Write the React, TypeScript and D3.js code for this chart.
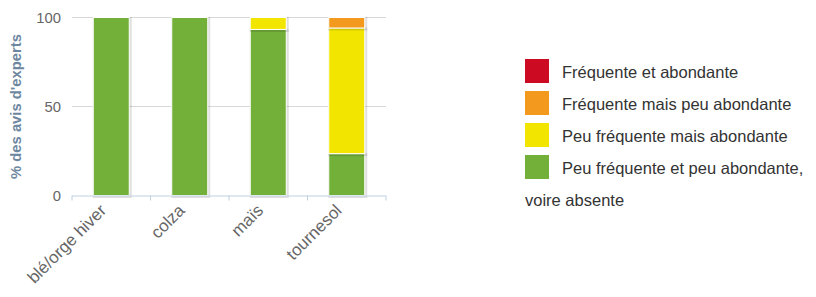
import * as d3 from 'd3';

const categories = ['blé/orge hiver', 'colza', 'maïs', 'tournesol'];
const seriesNames = [
  'Fréquente et abondante',
  'Fréquente mais peu abondante',
  'Peu fréquente mais abondante',
  'Peu fréquente et peu abondante, voire absente',
];
const seriesColors = ['#cc0a21', '#f39a1e', '#f2e600', '#72b03a'];
// values per series, in category order
const frequenteAbondante = [0, 0, 0, 0];
const frequentePeu = [0, 0, 0, 5.9];
const peuAbondante = [0, 0, 6.7, 70.6];
const peuPeu = [100, 100, 93.3, 23.5];
const yTicks = [0, 50, 100];

const width = 816;
const height = 297;
const margin = { top: 17.5, left: 72, right: 430, bottom: 101.5 };

function App() {
  const innerW = width - margin.left - margin.right;
  const innerH = height - margin.top - margin.bottom;
  const x = d3.scaleBand().domain(categories).range([0, innerW]);
  const y = d3.scaleLinear().domain([0, 100]).range([innerH, 0]);
  const barW = 36;

  // stack bottom-up: green, yellow, orange, red
  const rows = categories.map((c, i) => ({
    cat: c,
    s3: peuPeu[i],
    s2: peuAbondante[i],
    s1: frequentePeu[i],
    s0: frequenteAbondante[i],
  }));
  const stacked = d3.stack<any>().keys(['s3', 's2', 's1', 's0'])(rows);
  const colorFor: Record<string, string> = {
    s0: seriesColors[0], s1: seriesColors[1], s2: seriesColors[2], s3: seriesColors[3],
  };

  const font = '"Liberation Sans", Arial, sans-serif';

  return (
    <svg width={width} height={height} style={{ position: 'absolute', left: 0, top: 0 }} fontFamily={font}>
      <rect width={width} height={height} fill="#fff" />
      <g transform={`translate(${margin.left},${margin.top})`}>
        {yTicks.filter(t => t > 0).map(t => (
          <line key={t} x1={0} x2={innerW} y1={y(t)} y2={y(t)} stroke="#d8d8d8" strokeWidth={1} />
        ))}
        {yTicks.map(t => (
          <text key={t} x={-11} y={y(t)} dy="0.35em" textAnchor="end" fontSize={14.8} fill="#666">{t}</text>
        ))}
        {stacked.map(layer => (
          <g key={layer.key}>
            {layer.map((d, i) => {
              const h = y(d[0]) - y(d[1]);
              if (h <= 0) return null;
              const bx = (x(categories[i]) as number) + (x.bandwidth() - barW) / 2;
              return (
                <g key={i}>
                  <rect x={bx + 1} y={y(d[1]) + 1} width={barW} height={h} fill="none" stroke="#000" strokeOpacity={0.12} strokeWidth={3} />
                  <rect x={bx} y={y(d[1])} width={barW} height={h} fill={colorFor[layer.key]} stroke="#fff" strokeWidth={1} />
                </g>
              );
            })}
          </g>
        ))}
        <line x1={0} x2={innerW} y1={innerH + 0.5} y2={innerH + 0.5} stroke="#c0d0e0" strokeWidth={1} />
        {[...categories.map(c => x(c) as number), innerW].map((t, i) => (
          <line key={i} x1={t} x2={t} y1={innerH} y2={innerH + 5} stroke="#c0d0e0" strokeWidth={1} />
        ))}
        {categories.map(c => {
          const cx = (x(c) as number) + x.bandwidth() / 2;
          return (
            <text key={c} transform={`translate(${cx - 4},${innerH + 16}) rotate(-45)`} textAnchor="end" fontSize={17} fill="#666">{c}</text>
          );
        })}
        <text transform={`translate(${-51},${innerH / 2}) rotate(-90)`} textAnchor="middle" fontSize={14.8} fontWeight="bold" fill="#6e87a0">% des avis d'experts</text>
      </g>
      <g transform="translate(525,59)" fontSize={16.5} fill="#333">
        {seriesNames.map((n, i) => (
          <g key={n} transform={`translate(0,${i * 32})`}>
            <rect width={24} height={24} fill={seriesColors[i]} />
            <text x={37} y={13} dy="0.35em">{i === 3 ? 'Peu fréquente et peu abondante,' : n}</text>
          </g>
        ))}
        <text x={0} y={141} dy="0.35em">voire absente</text>
      </g>
    </svg>
  );
}

export default App;
